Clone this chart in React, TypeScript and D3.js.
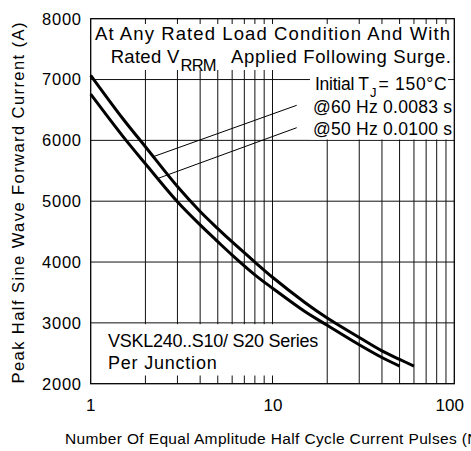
import React from 'react';
import * as d3 from 'd3';

// ---- data ----
const xTickValues = [1, 10, 100];
const xTickLabels = ['1', '10', '100'];
const yTickValues = [2000, 3000, 4000, 5000, 6000, 7000, 8000];
const yTickLabels = ['2000', '3000', '4000', '5000', '6000', '7000', '8000'];

// 60 Hz (0.0083 s) curve - upper
const pulses60Hz = [1, 1.5, 2, 3, 4, 5, 6, 8, 10, 15, 20, 30, 40, 50, 60];
const current60Hz = [7070, 6360, 5895, 5240, 4830, 4550, 4330, 4000, 3750, 3340, 3080, 2760, 2540, 2400, 2290];

// 50 Hz (0.0100 s) curve - lower
const pulses50Hz = [1, 1.5, 2, 3, 4, 5, 6, 8, 10, 15, 20, 30, 40, 50];
const current50Hz = [6760, 6070, 5615, 4990, 4610, 4335, 4115, 3790, 3570, 3190, 2960, 2640, 2430, 2290];

// leader line anchor points on the curves
const leaderPulses = [2.2, 2.37];
const leaderCurrents = [5730, 5380];

const FONT = 'Liberation Sans, Arial, Helvetica, sans-serif';

export default function App() {
  const W = 471;
  const H = 451;
  const left = 90.7, right = 454.3, top = 18.7, bottom = 383.7;

  const x = d3.scaleLog().domain([1, 100]).range([left, right]);
  const y = d3.scaleLinear().domain([2000, 8000]).range([bottom, top]);

  const gridX = x.ticks().filter((v) => v > 1 && v < 100);
  const gridY = yTickValues.filter((v) => v > 2000 && v < 8000);

  const line = d3
    .line<[number, number]>()
    .x((d) => x(d[0]))
    .y((d) => y(d[1]))
    .curve(d3.curveCatmullRom.alpha(0.5));

  const d60 = line(pulses60Hz.map((p, i) => [p, current60Hz[i]] as [number, number])) || '';
  const d50 = line(pulses50Hz.map((p, i) => [p, current50Hz[i]] as [number, number])) || '';

  const leaderFrom = [
    [296.7, 105.3],
    [296.7, 127.7],
  ];

  const gridStroke = '#111';

  return (
    <svg
      width={W}
      height={H}
      style={{ position: 'absolute', left: 0, top: 0, background: '#fff' }}
      fontFamily={FONT}
    >
      <rect x={0} y={0} width={W} height={H} fill="#fff" />
      {/* grid */}
      {gridX.map((v, i) => (
        <line key={'gx' + i} x1={x(v)} x2={x(v)} y1={top} y2={bottom} stroke={gridStroke} strokeWidth={1} />
      ))}
      {gridY.map((v, i) => (
        <line key={'gy' + i} x1={left} x2={right} y1={y(v)} y2={y(v)} stroke={gridStroke} strokeWidth={1} />
      ))}

      {/* white label boxes covering grid */}
      <rect x={left + 0.7} y={24} width={right - left - 1.4} height={46} fill="#fff" />
      <rect x={310} y={70} width={138} height={26} fill="#fff" />
      <rect x={310} y={96} width={right - 310 - 0.7} height={43.5} fill="#fff" />
      <rect x={left + 0.7} y={324.2} width={320 - left} height={51.3} fill="#fff" />

      {/* frame */}
      <rect x={left} y={top} width={right - left} height={bottom - top} fill="none" stroke="#000" strokeWidth={1.3} />

      {/* curves */}
      <path d={d60} fill="none" stroke="#000" strokeWidth={3} strokeLinejoin="round" />
      <path d={d50} fill="none" stroke="#000" strokeWidth={3} strokeLinejoin="round" />

      {/* leader lines */}
      {leaderPulses.map((p, i) => (
        <line
          key={'ld' + i}
          x1={leaderFrom[i][0]}
          y1={leaderFrom[i][1]}
          x2={x(p)}
          y2={y(leaderCurrents[i])}
          stroke="#000"
          strokeWidth={1}
        />
      ))}

      {/* y tick labels */}
      {yTickValues.map((v, i) => (
        <text key={'yt' + i} x={81} y={y(v) + 5.8} fontSize={16.5} textAnchor="end" textLength={39} lengthAdjust="spacing" fill="#000">
          {yTickLabels[i]}
        </text>
      ))}
      {/* x tick labels */}
      {xTickValues.map((v, i) => (
        <text
          key={'xt' + i}
          x={x(v) + (i === 2 ? -4.5 : i === 1 ? 0.5 : 0)}
          y={411}
          fontSize={17}
          textAnchor="middle"
          fill="#000"
        >
          {xTickLabels[i]}
        </text>
      ))}

      {/* axis titles */}
      <text transform="translate(24,203) rotate(-90)" fontSize={16.5} textAnchor="middle" textLength={361} lengthAdjust="spacing" fill="#000">
        Peak Half Sine Wave Forward Current (A)
      </text>
      <text x={65} y={443.5} fontSize={15.5} textLength={419} lengthAdjust="spacing" fill="#000">
        Number Of Equal Amplitude Half Cycle Current Pulses (N)
      </text>

      {/* top annotation */}
      <text x={95} y={39.5} fontSize={18.5} textLength={355} lengthAdjust="spacing" fill="#000">
        At Any Rated Load Condition And With
      </text>
      <text x={110.7} y={63} fontSize={18.5} textLength={68.6} lengthAdjust="spacing" fill="#000">
        Rated V
      </text>
      <text x={180.5} y={71} fontSize={16.5} textLength={36} lengthAdjust="spacing" fill="#000">
        RRM
      </text>
      <text x={231} y={63} fontSize={18.5} textLength={220} lengthAdjust="spacing" fill="#000">
        Applied Following Surge.
      </text>

      <text x={315} y={90} fontSize={17.5} textLength={54} lengthAdjust="spacing" fill="#000">
        Initial T
      </text>
      <text x={370} y={97} fontSize={13} fill="#000">
        J
      </text>
      <text x={378.5} y={90} fontSize={17.5} textLength={68.2} lengthAdjust="spacing" fill="#000">
        = 150°C
      </text>
      <text x={313} y={112.5} fontSize={17.5} textLength={139} lengthAdjust="spacing" fill="#000">
        @60 Hz 0.0083 s
      </text>
      <text x={313} y={134.5} fontSize={17.5} textLength={139} lengthAdjust="spacing" fill="#000">
        @50 Hz 0.0100 s
      </text>

      {/* bottom annotation */}
      <text x={108} y={346.5} fontSize={18} textLength={210.3} lengthAdjust="spacing" fill="#000">
        VSKL240..S10/ S20 Series
      </text>
      <text x={108} y={368.5} fontSize={18} textLength={108.7} lengthAdjust="spacing" fill="#000">
        Per Junction
      </text>
    </svg>
  );
}
